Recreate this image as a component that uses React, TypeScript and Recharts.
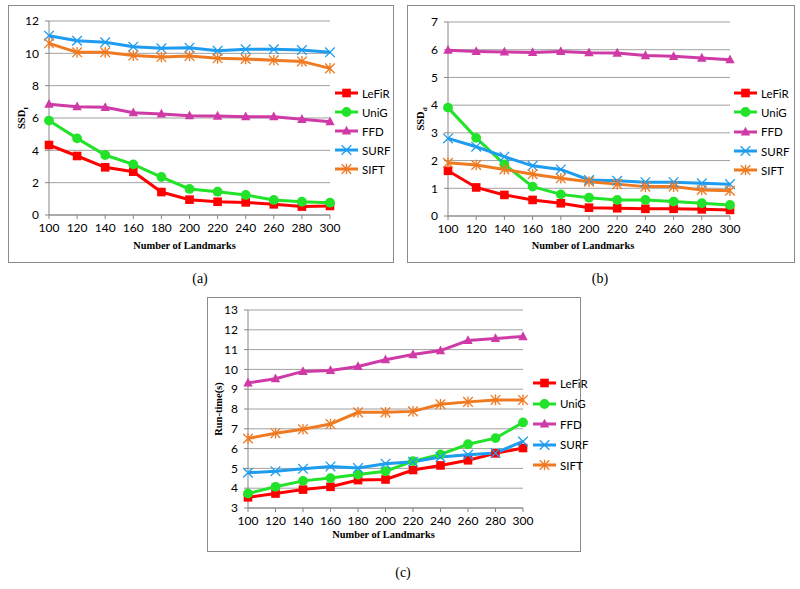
import { CartesianGrid, Legend, Line, LineChart, XAxis, YAxis } from "recharts";

const landmarks = [100, 120, 140, 160, 180, 200, 220, 240, 260, 280, 300];

// (a) SSD_I
const ssdiLeFiR = [4.33, 3.65, 2.95, 2.68, 1.42, 0.95, 0.82, 0.78, 0.66, 0.52, 0.56];
const ssdiUniG = [5.84, 4.74, 3.71, 3.13, 2.35, 1.61, 1.44, 1.24, 0.93, 0.82, 0.76];
const ssdiFFD = [6.85, 6.7, 6.66, 6.33, 6.25, 6.14, 6.12, 6.08, 6.08, 5.92, 5.77];
const ssdiSURF = [11.09, 10.78, 10.68, 10.41, 10.31, 10.35, 10.16, 10.25, 10.25, 10.2, 10.06];
const ssdiSIFT = [10.62, 10.06, 10.06, 9.86, 9.77, 9.84, 9.69, 9.65, 9.57, 9.5, 9.07];

// (b) SSD_d
const ssddLeFiR = [1.63, 1.03, 0.76, 0.58, 0.46, 0.3, 0.28, 0.26, 0.26, 0.24, 0.22];
const ssddUniG = [3.91, 2.82, 1.86, 1.06, 0.78, 0.66, 0.58, 0.58, 0.52, 0.46, 0.4];
const ssddFFD = [5.98, 5.94, 5.92, 5.9, 5.94, 5.89, 5.88, 5.79, 5.76, 5.7, 5.64];
const ssddSURF = [2.8, 2.5, 2.14, 1.81, 1.68, 1.3, 1.27, 1.22, 1.22, 1.18, 1.15];
const ssddSIFT = [1.92, 1.84, 1.68, 1.51, 1.36, 1.24, 1.15, 1.06, 1.06, 0.94, 0.91];

// (c) run-time
const timeLeFiR = [3.54, 3.73, 3.93, 4.07, 4.41, 4.44, 4.92, 5.15, 5.41, 5.76, 6.03];
const timeUniG = [3.73, 4.07, 4.37, 4.51, 4.69, 4.86, 5.37, 5.71, 6.22, 6.53, 7.32];
const timeFFD = [9.32, 9.53, 9.9, 9.95, 10.15, 10.49, 10.75, 10.95, 11.46, 11.56, 11.66];
const timeSURF = [4.78, 4.86, 4.98, 5.1, 5.02, 5.24, 5.34, 5.58, 5.69, 5.78, 6.36];
const timeSIFT = [6.51, 6.78, 6.98, 7.24, 7.83, 7.83, 7.88, 8.24, 8.36, 8.46, 8.46];

const methods = ["LeFiR", "UniG", "FFD", "SURF", "SIFT"];

const ticksA = [0, 2, 4, 6, 8, 10, 12];
const ticksB = [0, 1, 2, 3, 4, 5, 6, 7];
const ticksC = [3, 4, 5, 6, 7, 8, 9, 10, 11, 12, 13];

const styles: Record<string, { color: string; shape: string }> = {
  LeFiR: { color: "#ff0000", shape: "square" },
  UniG: { color: "#22e22a", shape: "circle" },
  FFD: { color: "#cf3aa6", shape: "triangle" },
  SURF: { color: "#1e9cf0", shape: "x" },
  SIFT: { color: "#ef7a22", shape: "star" },
};

const toRows = (cols: number[][]) =>
  landmarks.map((n, i) => {
    const row: Record<string, number> = { n };
    methods.forEach((m, j) => (row[m] = cols[j][i]));
    return row;
  });

const dataA = toRows([ssdiLeFiR, ssdiUniG, ssdiFFD, ssdiSURF, ssdiSIFT]);
const dataB = toRows([ssddLeFiR, ssddUniG, ssddFFD, ssddSURF, ssddSIFT]);
const dataC = toRows([timeLeFiR, timeUniG, timeFFD, timeSURF, timeSIFT]);

const tickFont = { fill: "#000", fontSize: 12, fontFamily: "Lato" };
const serif = "Liberation Serif";

function Marker({ cx, cy, shape, color }: any) {
  if (cx == null || cy == null) return null;
  if (shape === "square") return <rect x={cx - 4.3} y={cy - 4.3} width={8.6} height={8.6} fill={color} />;
  if (shape === "circle") return <circle cx={cx} cy={cy} r={4.9} fill={color} />;
  if (shape === "triangle")
    return <polygon points={`${cx},${cy - 5.2} ${cx + 4.7},${cy + 3.6} ${cx - 4.7},${cy + 3.6}`} fill={color} />;
  const d = 4.8;
  let p = `M${cx - d},${cy - d}L${cx + d},${cy + d}M${cx + d},${cy - d}L${cx - d},${cy + d}`;
  if (shape === "star") p += `M${cx},${cy - d - 0.5}L${cx},${cy + d + 0.5}`;
  return <path d={p} stroke={color} strokeWidth={1.3} fill="none" />;
}

function LegendBox({ rowH }: { rowH: number }) {
  return (
    <div>
      {methods.map((m) => (
        <div key={m} style={{ height: rowH, display: "flex", alignItems: "center" }}>
          <svg width={26} height={12}>
            <line x1={1} y1={6} x2={24} y2={6} stroke={styles[m].color} strokeWidth={3} />
            <Marker cx={12.5} cy={6} shape={styles[m].shape} color={styles[m].color} />
          </svg>
          <span style={{ fontFamily: "Lato", fontSize: 11.5, marginLeft: 2 }}>{m}</span>
        </div>
      ))}
    </div>
  );
}

function YTitle({ viewBox, main, sub, x }: any) {
  const cy = viewBox.y + viewBox.height / 2;
  return (
    <text x={x} y={cy} transform={`rotate(-90 ${x} ${cy})`} textAnchor="middle" fontFamily={serif} fontWeight="bold" fontSize={10.5}>
      {main}
      {sub ? (
        <tspan fontSize={7} dy={2.5}>
          {sub}
        </tspan>
      ) : null}
    </text>
  );
}

function XTitle({ viewBox, y, dx }: any) {
  return (
    <text x={viewBox.x + viewBox.width / 2 + dx} y={y} textAnchor="middle" fontFamily={serif} fontWeight="bold" fontSize={10.4}>
      Number of Landmarks
    </text>
  );
}

interface PanelProps {
  data: Record<string, number>[];
  width: number;
  height: number;
  margin: { top: number; right: number; left: number; bottom: number };
  domain: number[];
  ticks: number[];
  yMain: string;
  ySub?: string;
  yTitleX: number;
  xTitleY: number;
  xTitleDx: number;
  legendLeft: number;
  legendTop: number;
  rowH: number;
}

function Panel(p: PanelProps) {
  return (
    <LineChart width={p.width} height={p.height} data={p.data} margin={p.margin}>
      <CartesianGrid vertical={false} stroke="#a0a0a0" />
      <XAxis
        dataKey="n"
        height={30}
        interval={0}
        tick={tickFont}
        tickSize={4}
        tickMargin={4}
        stroke="#868686"
        label={(lp: any) => <XTitle {...lp} y={p.xTitleY} dx={p.xTitleDx} />}
      />
      <YAxis
        width={30}
        type="number"
        domain={p.domain}
        ticks={p.ticks}
        interval={0}
        tick={tickFont}
        tickSize={4}
        tickMargin={6}
        stroke="#868686"
        label={(lp: any) => <YTitle {...lp} main={p.yMain} sub={p.ySub} x={p.yTitleX} />}
      />
      <Legend
        layout="vertical"
        align="center"
        verticalAlign="middle"
        wrapperStyle={{ left: p.legendLeft, top: p.legendTop, width: 70 }}
        content={() => <LegendBox rowH={p.rowH} />}
      />
      {methods.map((m) => (
        <Line
          key={m}
          dataKey={m}
          type="linear"
          stroke={styles[m].color}
          strokeWidth={3}
          isAnimationActive={false}
          activeDot={false}
          dot={(dp: any) => <Marker key={`${m}-${dp.index}`} cx={dp.cx} cy={dp.cy} shape={styles[m].shape} color={styles[m].color} />}
        />
      ))}
    </LineChart>
  );
}

const boxStyle = (left: number, top: number, width: number, height: number): React.CSSProperties => ({
  position: "absolute",
  left,
  top,
  width,
  height,
  boxSizing: "border-box",
  border: "1px solid #8a8a8a",
});

const captionStyle = (x: number, y: number): React.CSSProperties => ({
  position: "absolute",
  left: x - 20,
  top: y - 9,
  width: 40,
  textAlign: "center",
  fontFamily: serif,
  fontSize: 14,
  lineHeight: "18px",
});

export default function App() {
  return (
    <div style={{ position: "absolute", left: 0, top: 0, width: 800, height: 589, background: "#fff", overflow: "hidden" }}>
      <div style={boxStyle(8, 5, 386, 258)} />
      <div style={{ position: "absolute", left: 8, top: 5 }}>
        <Panel
          data={dataA}
          width={386}
          height={257}
          margin={{ top: 16, right: 64, left: 11, bottom: 17 }}
          domain={[0, 12]}
          ticks={ticksA}
          yMain="SSD"
          ySub="I"
          yTitleX={17}
          xTitleY={244}
          xTitleDx={-5}
          legendLeft={326}
          legendTop={78.5}
          rowH={19}
        />
      </div>
      <div style={captionStyle(200, 279)}>(a)</div>

      <div style={boxStyle(407, 5, 388, 258)} />
      <div style={{ position: "absolute", left: 407, top: 5 }}>
        <Panel
          data={dataB}
          width={388}
          height={257}
          margin={{ top: 17, right: 65, left: 11, bottom: 16 }}
          domain={[0, 7]}
          ticks={ticksB}
          yMain="SSD"
          ySub="d"
          yTitleX={17}
          xTitleY={244}
          xTitleDx={-6}
          legendLeft={326}
          legendTop={78.5}
          rowH={19.3}
        />
      </div>
      <div style={captionStyle(600, 279)}>(b)</div>

      <div style={boxStyle(207, 297, 374, 255)} />
      <div style={{ position: "absolute", left: 207, top: 297 }}>
        <Panel
          data={dataC}
          width={373}
          height={254}
          margin={{ top: 13, right: 57, left: 11, bottom: 13 }}
          domain={[3, 13]}
          ticks={ticksC}
          yMain="Run-time(s)"
          yTitleX={15}
          xTitleY={241}
          xTitleDx={-2}
          legendLeft={325}
          legendTop={76}
          rowH={20.5}
        />
      </div>
      <div style={captionStyle(403, 573)}>(c)</div>
    </div>
  );
}
